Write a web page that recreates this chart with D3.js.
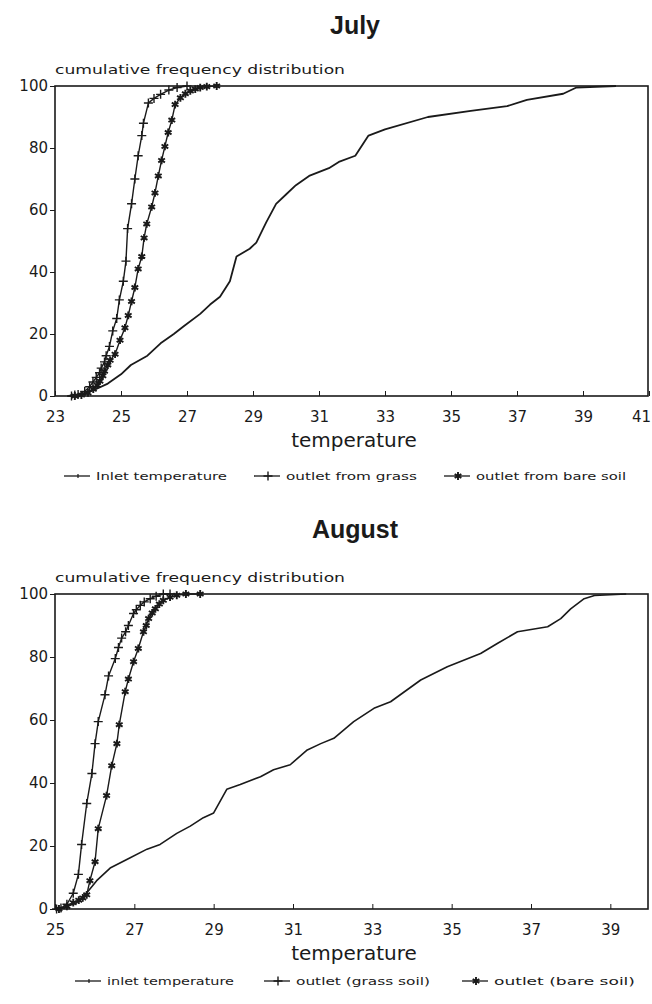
<!DOCTYPE html>
<html>
<head>
<meta charset="utf-8">
<script src="https://cdn.jsdelivr.net/npm/d3@7"></script>
<style>
  body { margin: 0; background: #fff; }
  svg { display: block; }
  .tick text { font-family: "DejaVu Sans", sans-serif; font-size: 15px; fill: #1a1a1a; }
  .tick line, .domain { stroke: #1a1a1a; }
</style>
</head>
<body>
<div id="chart"></div>
<script>
// July: [temperature, cumulative %]
const julyInlet = [[23.4,0],[23.8,0.5],[24.2,2],[24.6,4],[25.0,7],[25.3,10],[25.8,13],[26.2,17],[26.6,20],[26.9,22.5],
  [27.4,26.5],[27.7,29.5],[28.0,32],[28.3,37],[28.5,45],[28.9,47.5],[29.1,49.5],[29.4,56],[29.7,62],[30.0,65],
  [30.3,68],[30.7,71],[31.3,73.5],[31.6,75.5],[32.1,77.5],[32.5,84],[33.0,86],[34.3,90],[35.6,92],[36.7,93.5],
  [37.3,95.5],[38.4,97.5],[38.8,99.5],[40.0,100]];
const julyGrass = [[23.5,0],[23.6,0.3],[23.7,0.5],[23.9,1.5],[24.05,3],[24.15,4.5],[24.25,6],[24.35,7.5],[24.4,9],[24.5,11],
  [24.55,13],[24.65,16],[24.75,21],[24.87,25],[24.95,31],[25.07,37],[25.15,43.5],[25.2,54],[25.32,62],[25.42,70],
  [25.52,77.5],[25.63,84],[25.68,88],[25.83,94.5],[26.0,96],[26.2,97.3],[26.45,98.7],[26.7,99.5],[27.0,100]];
const julyBare = [[23.6,0],[23.8,0.3],[24.0,1],[24.16,2.2],[24.28,3.5],[24.36,4.8],[24.45,6.5],[24.5,8],[24.6,10],[24.67,11.5],
  [24.82,13.5],[24.97,18],[25.12,22],[25.22,26],[25.32,30.5],[25.42,35],[25.52,41],[25.63,45],[25.7,51],[25.78,55.5],
  [25.93,61],[26.03,65.5],[26.13,71],[26.23,76],[26.33,80.5],[26.43,85],[26.54,89],[26.64,94],[26.8,96.2],[26.95,97.5],
  [27.1,98.4],[27.25,99],[27.4,99.5],[27.6,99.8],[27.9,100]];

// August
const augInlet = [[25.04,0],[25.3,0.8],[25.55,2],[25.84,5.7],[26.05,9],[26.39,13],[26.81,15.7],[27.32,19],[27.65,20.5],[28.07,24],
  [28.41,26.3],[28.74,29],[29.0,30.5],[29.33,38],[29.67,39.5],[30.18,42],[30.51,44.2],[30.93,45.8],[31.36,50.5],[31.7,52.5],
  [32.03,54.2],[32.53,59.5],[33.04,63.7],[33.46,65.8],[34.22,72.7],[34.89,76.9],[35.73,81.1],[36.15,84.3],[36.66,88],[37.42,89.6],
  [37.75,92.2],[38.0,95.3],[38.34,98.5],[38.6,99.5],[39.4,100]];
const augGrass = [[25.04,0],[25.15,0.3],[25.3,1.5],[25.46,5],[25.59,11],[25.67,20.5],[25.8,33.5],[25.93,43],[26.01,52.5],[26.09,59.5],
  [26.26,68],[26.35,74],[26.52,79.5],[26.6,83],[26.68,86],[26.78,88],[26.85,90],[26.98,93.8],[27.05,95],[27.15,96.4],
  [27.25,97.5],[27.4,98.5],[27.55,99.3],[27.73,100],[27.9,100]];
const augBare = [[25.1,0],[25.3,0.8],[25.46,2],[25.6,2.8],[25.7,3.5],[25.8,4.5],[25.88,9],[26.01,15],[26.09,25.5],[26.3,36],
  [26.43,45.5],[26.56,52.5],[26.62,58.5],[26.77,69],[26.85,73],[26.98,78.5],[27.1,82.7],[27.23,88],[27.3,90],[27.36,92.2],
  [27.45,94],[27.53,95.3],[27.63,96.8],[27.73,98],[27.9,99],[28.07,99.6],[28.3,100],[28.66,100]];

const julyTicks = [23, 25, 27, 29, 31, 33, 35, 37, 39, 41];
const augTicks = [25, 27, 29, 31, 33, 35, 37, 39];
const yTicks = [0, 20, 40, 60, 80, 100];
const julyLegend = ["Inlet temperature", "outlet from grass", "outlet from bare soil"];
const augLegend = ["inlet temperature", "outlet (grass soil)", "outlet (bare soil)"];

const ink = "#1a1a1a";

const svg = d3.select("#chart").append("svg")
    .attr("width", 652)
    .attr("height", 1004);

svg.append("rect").attr("width", 652).attr("height", 1004).attr("fill", "#fff");

// draws one marker: "tick", "plus" or "star"
function marker(g, kind, cx, cy) {
    if (kind === "plus") {
        g.append("path")
            .attr("d", `M${cx - 4.5},${cy}H${cx + 4.5}M${cx},${cy - 4.5}V${cy + 4.5}`)
            .attr("stroke", ink).attr("stroke-width", 1.4);
    } else if (kind === "star") {
        g.append("path")
            .attr("transform", `translate(${cx},${cy})`)
            .attr("d", d3.symbol().type(d3.symbolAsterisk).size(42)())
            .attr("fill", "none").attr("stroke", ink).attr("stroke-width", 1.9);
        g.append("circle").attr("cx", cx).attr("cy", cy).attr("r", 1.7).attr("fill", ink);
    } else {
        g.append("path")
            .attr("d", `M${cx},${cy - 2}V${cy + 2}`)
            .attr("stroke", ink).attr("stroke-width", 1.2);
    }
}

function drawPanel(cfg) {
    const g = svg.append("g");
    const x = d3.scaleLinear().domain(cfg.xDomain).range([cfg.left, cfg.right]);
    const y = d3.scaleLinear().domain([0, 100]).range([cfg.bottom, cfg.top]);

    // Title
    g.append("text")
        .attr("x", 355).attr("y", cfg.titleY)
        .attr("text-anchor", "middle")
        .style("font-family", "Liberation Sans, Arial, sans-serif")
        .style("font-weight", "bold")
        .style("font-size", "25px")
        .attr("fill", ink)
        .text(cfg.title);

    // y label on top of the frame
    g.append("text")
        .attr("x", cfg.left).attr("y", cfg.top - 12)
        .style("font-family", "DejaVu Sans, sans-serif")
        .style("font-size", "13px")
        .attr("textLength", 290)
        .attr("lengthAdjust", "spacingAndGlyphs")
        .attr("fill", ink)
        .text("cumulative frequency distribution");

    // Frame
    g.append("rect")
        .attr("x", cfg.left).attr("y", cfg.top)
        .attr("width", cfg.frameRight - cfg.left).attr("height", cfg.bottom - cfg.top)
        .attr("fill", "none").attr("stroke", ink).attr("stroke-width", 1.6);

    // Axes
    g.append("g")
        .attr("transform", "translate(0," + cfg.bottom + ")")
        .call(d3.axisBottom(x).tickValues(cfg.xTicks).tickFormat(d3.format("d"))
            .tickSizeInner(-5).tickSizeOuter(0).tickPadding(15))
        .call(a => a.select(".domain").remove())
        // keep a label that would run past the page edge inside it
        .call(a => a.selectAll(".tick text").filter(d => x(d) > 640).attr("dx", -8));

    g.append("g")
        .attr("transform", "translate(" + cfg.left + ",0)")
        .call(d3.axisLeft(y).tickValues(yTicks).tickSize(5).tickPadding(2))
        .call(a => a.select(".domain").remove());

    g.append("text")
        .attr("x", 354).attr("y", cfg.bottom + 51)
        .attr("text-anchor", "middle")
        .style("font-family", "DejaVu Sans, sans-serif")
        .style("font-size", "20px")
        .attr("fill", ink)
        .text("temperature");

    // Series
    const line = d3.line().x(d => x(d[0])).y(d => y(d[1]));
    cfg.series.forEach(s => {
        g.append("path")
            .datum(s.data)
            .attr("fill", "none")
            .attr("stroke", ink)
            .attr("stroke-width", s.width)
            .attr("stroke-linejoin", "round")
            .attr("d", line);
        if (s.kind !== "tick") {
            s.data.forEach(d => marker(g, s.kind, x(d[0]), y(d[1])));
        }
    });

    // Legend
    cfg.series.forEach((s, i) => {
        const lx = cfg.legendX[i];
        g.append("line")
            .attr("x1", lx).attr("x2", lx + 26)
            .attr("y1", cfg.legendY).attr("y2", cfg.legendY)
            .attr("stroke", ink).attr("stroke-width", 1.3);
        marker(g, s.kind, lx + 14, cfg.legendY);
        g.append("text")
            .attr("x", lx + 32).attr("y", cfg.legendY + 4)
            .style("font-family", "DejaVu Sans, sans-serif")
            .style("font-size", "11px")
            .attr("textLength", cfg.legendW[i])
            .attr("lengthAdjust", "spacingAndGlyphs")
            .attr("fill", ink)
            .text(cfg.legend[i]);
    });
}

drawPanel({
    title: "July", titleY: 34,
    xDomain: [23, 41], xTicks: julyTicks,
    left: 55, right: 649, frameRight: 648, top: 86, bottom: 396,
    legend: julyLegend, legendX: [64, 254, 444], legendW: [131, 131, 150], legendY: 476,
    series: [
        { data: julyInlet, kind: "tick", width: 1.8 },
        { data: julyGrass, kind: "plus", width: 1.4 },
        { data: julyBare, kind: "star", width: 1.4 }
    ]
});

drawPanel({
    title: "August", titleY: 538,
    xDomain: [25, 40], xTicks: augTicks,
    left: 55, right: 650, frameRight: 648, top: 594, bottom: 909,
    legend: augLegend, legendX: [75, 264, 462], legendW: [127, 134, 141], legendY: 981,
    series: [
        { data: augInlet, kind: "tick", width: 1.6 },
        { data: augGrass, kind: "plus", width: 1.4 },
        { data: augBare, kind: "star", width: 1.4 }
    ]
});
</script>
</body>
</html>
